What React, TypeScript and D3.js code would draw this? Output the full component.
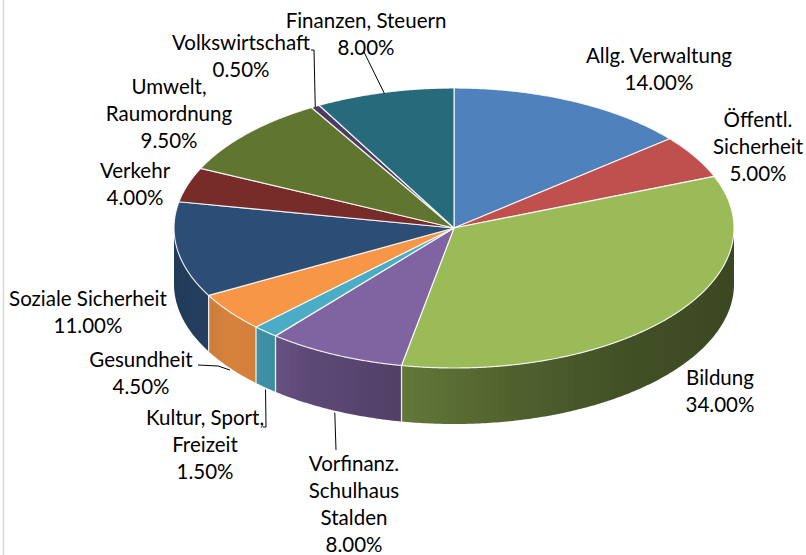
import React from 'react';
import * as d3 from 'd3';

// ---- data ----
const categories = [
  'Allg. Verwaltung',
  'Öffentl. Sicherheit',
  'Bildung',
  'Vorfinanz. Schulhaus Stalden',
  'Kultur, Sport, Freizeit',
  'Gesundheit',
  'Soziale Sicherheit',
  'Verkehr',
  'Umwelt, Raumordnung',
  'Volkswirtschaft',
  'Finanzen, Steuern',
];
const values = [14, 5, 34, 8, 1.5, 4.5, 11, 4, 9.5, 0.5, 8];
const labelLines = [
  ['Allg. Verwaltung'],
  ['Öffentl.', 'Sicherheit'],
  ['Bildung'],
  ['Vorfinanz.', 'Schulhaus', 'Stalden'],
  ['Kultur, Sport,', 'Freizeit'],
  ['Gesundheit'],
  ['Soziale Sicherheit'],
  ['Verkehr'],
  ['Umwelt,', 'Raumordnung'],
  ['Volkswirtschaft'],
  ['Finanzen, Steuern'],
];
const colors = [
  '#4F81BD', '#C0504D', '#9BBB59', '#8064A2', '#4BACC6', '#F79646',
  '#2C4D75', '#772C2A', '#5F7530', '#4D3B62', '#276A7C',
];

// ---- layout ----
const W = 806, H = 555;
const CX = 454, CY = 228, RX = 280, RY = 140, DEPTH = 56;
const LINE_H = 27;
const FONT = 'Lato, "Open Sans", sans-serif';
const FONT_SIZE = 20.5;

type LabelPos = { x: number; y: number; from?: [number, number][]; rim?: 'top' | 'bottom' };
const labelLayout: LabelPos[] = [
  { x: 659, y: 63 },
  { x: 758, y: 127 },
  { x: 720, y: 385 },
  { x: 354, y: 471, from: [[336, 450]], rim: 'bottom' },
  { x: 205, y: 425, from: [[263, 427], [266, 427]], rim: 'bottom' },
  { x: 141, y: 367, from: [[198, 365], [218, 366]], rim: 'bottom' },
  { x: 88, y: 306 },
  { x: 135, y: 178 },
  { x: 169, y: 94 },
  { x: 241, y: 50, from: [[311, 50], [314, 50]], rim: 'top' },
  { x: 366, y: 28, from: [[364, 52]], rim: 'top' },
];

const pt = (a: number, dy = 0): [number, number] => [
  CX + RX * Math.sin(a),
  CY - RY * Math.cos(a) + dy,
];

const shade = d3
  .scaleLinear<number>()
  .domain([174, 230, 265, 300, 400, 500, 620, 734])
  .range([0.76, 0.87, 0.84, 0.74, 0.64, 0.53, 0.43, 0.38])
  .clamp(true);

function darken(c: string, f: number) {
  const r = d3.rgb(c);
  return d3.rgb(r.r * f, r.g * f, r.b * f).formatHex();
}

function sampleAngles(a0: number, a1: number, step = 0.01) {
  const n = Math.max(2, Math.ceil((a1 - a0) / step) + 1);
  return d3.range(n).map((i) => a0 + ((a1 - a0) * i) / (n - 1));
}

const line = d3.line<[number, number]>();

export default function App() {
  const pie = d3.pie<number>().sort(null).value((d) => d);
  const arcs = pie(values);
  const HALF = Math.PI / 2, THREE_HALF = (3 * Math.PI) / 2;

  const sides = arcs
    .map((a, i) => {
      const lo = Math.max(a.startAngle, HALF);
      const hi = Math.min(a.endAngle, THREE_HALF);
      if (hi <= lo) return null;
      const angs = sampleAngles(lo, hi);
      const top = angs.map((t) => pt(t));
      const bot = angs.slice().reverse().map((t) => pt(t, DEPTH));
      const d = line([...top, ...bot]) + 'Z';
      const xs = top.map((p) => p[0]);
      const xmin = d3.min(xs)!, xmax = d3.max(xs)!;
      const stops = angs
        .filter((_, k) => k % 4 === 0 || k === angs.length - 1)
        .map((t) => {
          const x = pt(t)[0];
          return { off: xmax > xmin ? (x - xmin) / (xmax - xmin) : 0, color: darken(colors[i], shade(x)) };
        })
        .sort((p, q) => p.off - q.off);
      return { i, d, xmin, xmax, stops };
    })
    .filter(Boolean) as { i: number; d: string; xmin: number; xmax: number; stops: { off: number; color: string }[] }[];

  const tops = arcs.map((a, i) => {
    const angs = sampleAngles(a.startAngle, a.endAngle, 0.005);
    const d = line([[CX, CY], ...angs.map((t) => pt(t))]) + 'Z';
    return { i, d };
  });

  const boundaryLines = arcs
    .map((a) => a.startAngle)
    .filter((t) => t > HALF && t < THREE_HALF)
    .map((t) => ({ p0: pt(t), p1: pt(t, DEPTH) }));

  return (
    <svg
      width={W}
      height={H}
      style={{ position: 'absolute', left: 0, top: 0, background: '#fff' }}
      fontFamily={FONT}
      fontSize={FONT_SIZE}
    >
      <defs>
        {sides.map((s) => (
          <linearGradient key={s.i} id={`side${s.i}`} gradientUnits="userSpaceOnUse" x1={s.xmin} x2={s.xmax} y1={0} y2={0}>
            {s.stops.map((st, k) => (
              <stop key={k} offset={st.off} stopColor={st.color} />
            ))}
          </linearGradient>
        ))}
      </defs>
      <rect x={0} y={0} width={W} height={H} fill="#fff" />
      <line x1={3.5} x2={3.5} y1={0} y2={H} stroke="#D9D9D9" strokeWidth={1.5} />

      {sides.map((s) => (
        <path key={s.i} d={s.d} fill={`url(#side${s.i})`} />
      ))}
      {boundaryLines.map((b, k) => (
        <line key={k} x1={b.p0[0]} y1={b.p0[1]} x2={b.p1[0]} y2={b.p1[1]} stroke="#fff" strokeOpacity={0.85} strokeWidth={1.3} />
      ))}
      {tops.map((t) => (
        <path key={t.i} d={t.d} fill={colors[t.i]} stroke="#fff" strokeOpacity={0.85} strokeWidth={1.2} strokeLinejoin="round" />
      ))}

      {labelLayout.map((L, i) => {
        if (!L.from) return null;
        const a = arcs[i];
        const mid = (a.startAngle + a.endAngle) / 2;
        const end = L.rim === 'bottom' ? pt(mid, DEPTH + 2) : pt(mid, 1);
        return (
          <path key={`ld${i}`} d={line([...L.from, end])!} fill="none" stroke="#000" strokeWidth={1} />
        );
      })}

      {labelLayout.map((L, i) => {
        const lines = [...labelLines[i], values[i].toFixed(2) + '%'];
        return (
          <text key={`lb${i}`} textAnchor="middle" fill="#000">
            {lines.map((s, k) => (
              <tspan key={k} x={L.x} y={L.y + k * LINE_H}>
                {s}
              </tspan>
            ))}
          </text>
        );
      })}
    </svg>
  );
}
